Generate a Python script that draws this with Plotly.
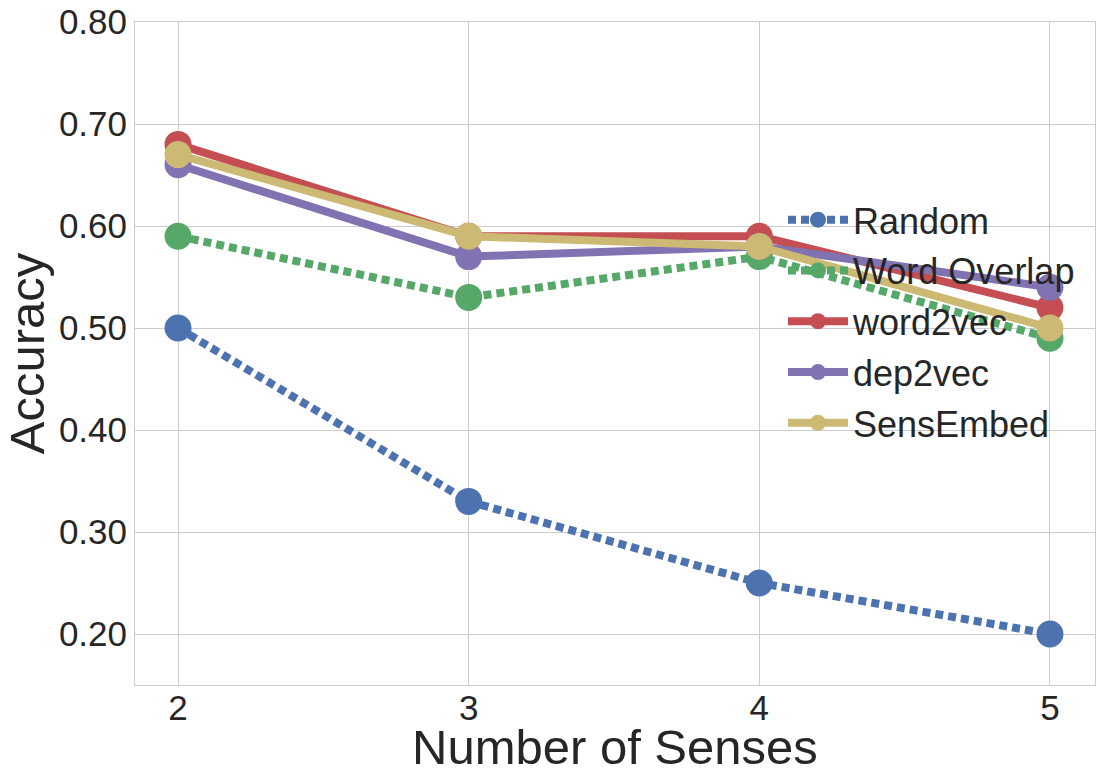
import plotly.graph_objects as go

senses = [2, 3, 4, 5]
random_acc = [0.50, 0.33, 0.25, 0.20]
word_overlap = [0.59, 0.53, 0.57, 0.49]
word2vec = [0.68, 0.59, 0.59, 0.52]
dep2vec = [0.66, 0.57, 0.58, 0.54]
sensembed = [0.67, 0.59, 0.58, 0.50]

series = [
    ("Random", random_acc, "#4C72B0", "8px,5px"),
    ("Word Overlap", word_overlap, "#55A868", "8px,5px"),
    ("word2vec", word2vec, "#C44E52", "solid"),
    ("dep2vec", dep2vec, "#8172B2", "solid"),
    ("SensEmbed", sensembed, "#CCB974", "solid"),
]

fig = go.Figure()
for i, (name, vals, color, dash) in enumerate(series):
    fig.add_trace(go.Scatter(
        x=senses, y=vals, name=name, mode="lines+markers",
        line=dict(color=color, width=8, dash=dash),
        marker=dict(color=color, size=27),
        legendgroup=f"g{i}",
    ))

font_family = "Liberation Sans, Arial, sans-serif"
fig.update_layout(
    width=1102, height=782,
    margin=dict(l=135, r=7, t=22, b=97),
    paper_bgcolor="white", plot_bgcolor="white",
    font=dict(family=font_family, color="#262626", size=35),
    showlegend=True,
    legend=dict(
        x=0.675, y=0.747, xanchor="left", yanchor="top",
        bgcolor="rgba(0,0,0,0)", borderwidth=0,
        font=dict(size=36, color="#262626"),
        traceorder="grouped", tracegroupgap=1,
        itemwidth=60,
    ),
    xaxis=dict(
        range=[1.852, 5.155], tickvals=senses, ticktext=[str(s) for s in senses],
        showgrid=True, gridcolor="#cccccc", gridwidth=1,
        showline=True, linecolor="#cccccc", linewidth=1, mirror=True,
        zeroline=False, ticks="", automargin=False,
        ticklabelstandoff=-8,
        tickfont=dict(size=35),
    ),
    yaxis=dict(
        range=[0.15, 0.80], tickvals=[0.2, 0.3, 0.4, 0.5, 0.6, 0.7, 0.8],
        tickformat=".2f",
        showgrid=True, gridcolor="#cccccc", gridwidth=1,
        showline=True, linecolor="#cccccc", linewidth=1, mirror=True,
        zeroline=False, ticks="", automargin=False,
        tickfont=dict(size=35),
        title=dict(text="Accuracy", font=dict(size=49), standoff=6),
    ),
    annotations=[dict(
        text="Number of Senses", xref="paper", yref="paper",
        x=0.5, y=-0.05, xanchor="center", yanchor="top",
        showarrow=False, font=dict(size=49, color="#262626"),
    )],
)

fig.write_html("out.html")
